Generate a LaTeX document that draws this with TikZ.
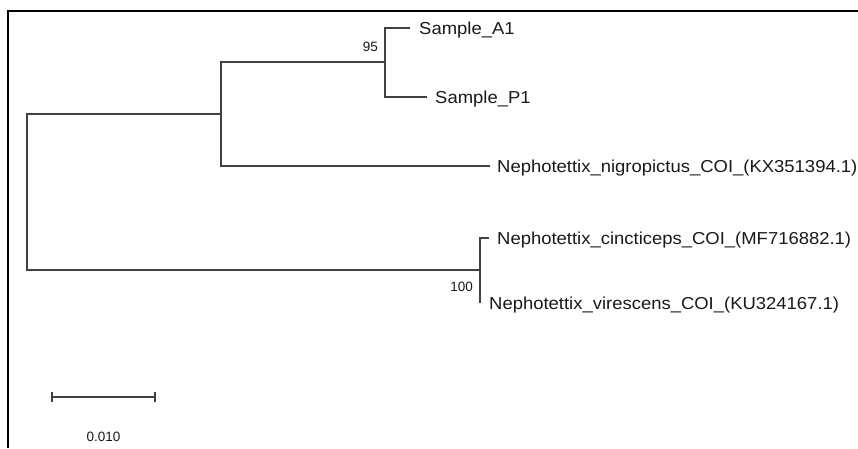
\documentclass[tikz,border=0pt]{standalone}
\usepackage{fontspec}
\setmainfont{Liberation Sans}
\newfontfamily\taxonfont[FakeStretch=1.067]{Liberation Sans}
\usepackage{tikz}
\usetikzlibrary{positioning,calc}

\begin{document}
\begin{tikzpicture}[x=1pt,y=-1pt,
  branch/.style={draw=black!75,line width=1.3pt},
  taxon/.style={anchor=base west,inner sep=0pt,text=black!90,font=\taxonfont\fontsize{17.3}{20}\selectfont},
  boot/.style={inner sep=0pt,text=black!90,font=\fontsize{13.5}{15}\selectfont}]
  \useasboundingbox (0,0) rectangle (858,448);
  % window edge
  \draw[line width=1.5pt] (858,11) -- (8,11) -- (8,448);
  % internal nodes and tips
  \coordinate (root) at (27,192);
  \coordinate (nUp) at (221,114);
  \coordinate (nSam) at (385,62);
  \coordinate (nLow) at (480,270);
  \coordinate (tA1) at (410,28);
  \coordinate (tP1) at (427,97);
  \coordinate (tNig) at (490,166);
  \coordinate (tCin) at (489,238);
  \coordinate (tVir) at (480,303);
  % branches
  \draw[branch] (root) |- (nUp);
  \draw[branch] (root) |- (nLow);
  \draw[branch] (nUp) |- (nSam);
  \draw[branch] (nUp) |- (tNig);
  \draw[branch] (nSam) |- (tA1);
  \draw[branch] (nSam) |- (tP1);
  \draw[branch] (nLow) |- (tCin);
  \draw[branch] (nLow) |- (tVir);
  % taxa
  \path node [taxon] (lA1) at ($(tA1)+(9,6)$) {Sample\_A1}
  node [taxon] (lP1) at ($(tP1)+(8,6)$) {Sample\_P1}
  node [taxon] (lNig) at ($(tNig)+(7,6)$) {Nephotettix\_nigropictus\_COI\_(KX351394.1)}
  node [taxon] (lCin) at ($(tCin)+(8,6)$) {Nephotettix\_cincticeps\_COI\_(MF716882.1)}
  node [taxon] (lVir) at ($(tVir)+(9,6)$) {Nephotettix\_virescens\_COI\_(KU324167.1)};
  % bootstrap values
  \node [boot,anchor=east] (b95) at ($(nSam)+(-7,-15.5)$) {95};
  \node [boot,anchor=east] (b100) at ($(nLow)+(-7,17)$) {100};
  % scale bar
  \coordinate (sL) at (52,397);
  \coordinate (sR) at (155,397);
  \draw[branch] (sL) -- (sR);
  \draw[branch] ($(sL)+(0,-5)$) -- ($(sL)+(0,5)$);
  \draw[branch] ($(sR)+(0,-5)$) -- ($(sR)+(0,5)$);
  \node [boot] (scale) at (103.5,437) {0.010};
\end{tikzpicture}
\end{document}
